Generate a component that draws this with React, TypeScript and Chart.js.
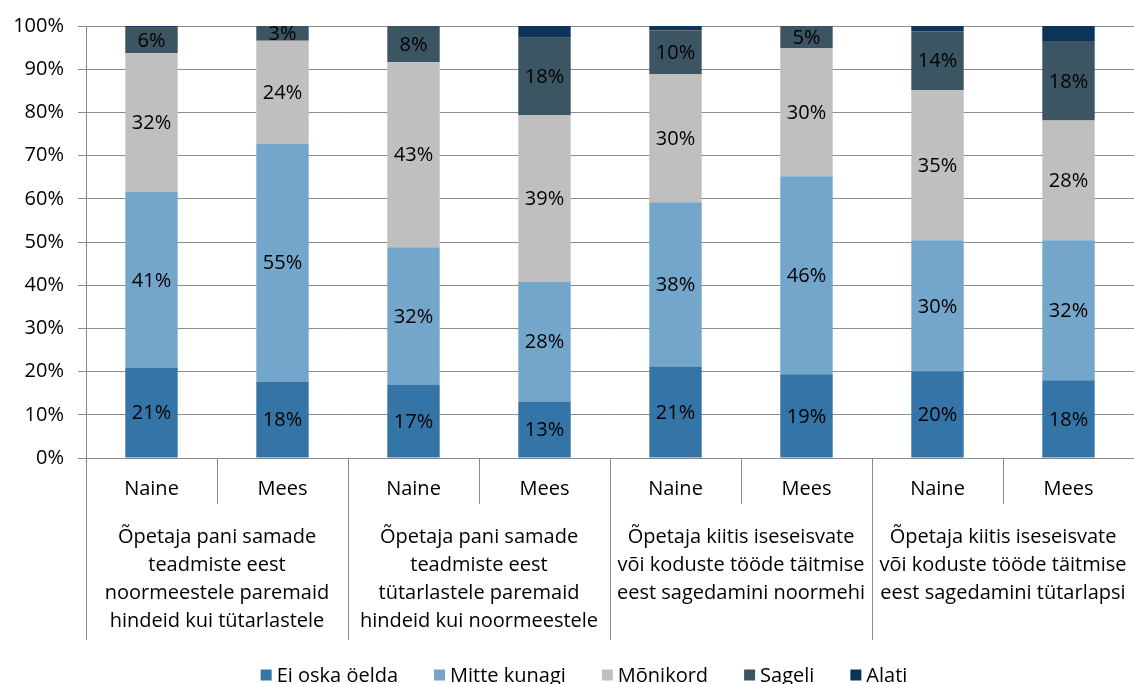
import React, { useEffect, useRef } from 'react';
import { Chart, registerables } from 'chart.js';

Chart.register(...registerables);

const categories = ['Naine', 'Mees', 'Naine', 'Mees', 'Naine', 'Mees', 'Naine', 'Mees'];
const groupLabels = [
  ['Õpetaja pani samade', 'teadmiste eest', 'noormeestele paremaid', 'hindeid kui tütarlastele'],
  ['Õpetaja pani samade', 'teadmiste eest', 'tütarlastele paremaid', 'hindeid kui noormeestele'],
  ['Õpetaja kiitis iseseisvate', 'või koduste tööde täitmise', 'eest sagedamini noormehi'],
  ['Õpetaja kiitis iseseisvate', 'või koduste tööde täitmise', 'eest sagedamini tütarlapsi'],
];
const seriesNames = ['Ei oska öelda', 'Mitte kunagi', 'Mõnikord', 'Sageli', 'Alati'];
const seriesColors = ['#3574A6', '#74A6CC', '#BFBFBF', '#3B5662', '#0C3459'];

const eiOska = [20.9, 17.6, 17.0, 13.1, 21.2, 19.4, 20.0, 18.0];
const mitteKunagi = [40.7, 55.2, 31.8, 27.7, 38.0, 45.8, 30.4, 32.4];
const monikord = [32.1, 23.8, 42.8, 38.6, 29.7, 29.7, 34.8, 27.7];
const sageli = [5.9, 3.4, 8.4, 17.9, 10.1, 5.1, 13.6, 18.4];
const alati = [0.4, 0, 0, 2.7, 1.0, 0, 1.2, 3.5];

const yTicks = [0, 10, 20, 30, 40, 50, 60, 70, 80, 90, 100];

const FONT = '"Open Sans", Lato, sans-serif';
const FONT_SIZE = 20;
const LINE_COLOR = '#8c8c8c';

const decorations = {
  id: 'decorations',
  afterDatasetsDraw(chart: any) {
    const ctx = chart.ctx;
    ctx.save();
    ctx.font = `${FONT_SIZE}px ${FONT}`;
    ctx.fillStyle = '#000';
    ctx.textAlign = 'center';
    ctx.textBaseline = 'middle';
    chart.data.datasets.forEach((ds: any, di: number) => {
      if (di > 3) return;
      const meta = chart.getDatasetMeta(di);
      meta.data.forEach((bar: any, i: number) => {
        const v = ds.data[i];
        if (!v) return;
        const p = bar.getProps(['x', 'y', 'base'], true);
        ctx.fillText(Math.round(v) + '%', p.x, (p.y + p.base) / 2 + 1);
      });
    });
    ctx.restore();
  },
  afterDraw(chart: any) {
    const ctx = chart.ctx;
    const xs = chart.scales.x;
    const area = chart.chartArea;
    const slot = xs.getPixelForValue(1) - xs.getPixelForValue(0);
    const bottom = area.bottom;
    ctx.save();
    ctx.strokeStyle = LINE_COLOR;
    ctx.lineWidth = 1;
    const vline = (x: number, y1: number, y2: number) => {
      const px = Math.round(x) + 0.5;
      ctx.beginPath();
      ctx.moveTo(px, y1);
      ctx.lineTo(px, y2);
      ctx.stroke();
    };
    vline(area.left - 0.5, bottom, 640);
    for (let k = 1; k < categories.length; k++) {
      const bx = xs.getPixelForValue(k) - slot / 2;
      if (k % 2 === 0) vline(bx, bottom, 640);
      else vline(bx, bottom, 504);
    }
    // group labels
    ctx.font = `${FONT_SIZE}px ${FONT}`;
    ctx.fillStyle = '#000';
    ctx.textAlign = 'center';
    ctx.textBaseline = 'middle';
    groupLabels.forEach((lines, g) => {
      const cx = (xs.getPixelForValue(2 * g) + xs.getPixelForValue(2 * g + 1)) / 2;
      lines.forEach((line, li) => {
        ctx.fillText(line, cx, 537 + li * 28);
      });
    });
    // legend
    const box = 11;
    const gapBoxText = 5;
    const gapItems = 36;
    const widths = seriesNames.map((n) => ctx.measureText(n).width);
    const total = widths.reduce((a, w) => a + box + gapBoxText + w, 0) + gapItems * (seriesNames.length - 1);
    let lx = 584 - total / 2;
    const ly = 675;
    ctx.textAlign = 'left';
    seriesNames.forEach((n, i) => {
      ctx.fillStyle = seriesColors[i];
      ctx.fillRect(lx, ly - box / 2, box, box);
      ctx.fillStyle = '#000';
      ctx.fillText(n, lx + box + gapBoxText, ly + 1);
      lx += box + gapBoxText + widths[i] + gapItems;
    });
    ctx.restore();
  },
};

export default function App() {
  const ref = useRef<HTMLCanvasElement | null>(null);
  useEffect(() => {
    if (!ref.current) return;
    const series = [eiOska, mitteKunagi, monikord, sageli, alati];
    const chart = new Chart(ref.current, {
      type: 'bar',
      data: {
        labels: categories,
        datasets: series.map((d, i) => ({
          label: seriesNames[i],
          data: d,
          backgroundColor: seriesColors[i],
          borderWidth: 0,
          categoryPercentage: 1,
          barPercentage: 0.4,
        })),
      },
      options: {
        responsive: false,
        animation: false,
        layout: { padding: { top: 24, right: 0, bottom: 0, left: 0 } },
        plugins: {
          legend: { display: false },
          tooltip: { enabled: false },
        },
        scales: {
          x: {
            stacked: true,
            grid: { display: false },
            border: { display: true, color: LINE_COLOR },
            ticks: {
              color: '#000',
              font: { family: FONT, size: FONT_SIZE },
              padding: 11,
              maxRotation: 0,
              autoSkip: false,
            },
            afterFit(scale: any) {
              scale.height = 226;
            },
          },
          y: {
            stacked: true,
            min: 0,
            max: 100,
            afterBuildTicks(scale: any) {
              scale.ticks = yTicks.map((v) => ({ value: v }));
            },
            grid: { color: LINE_COLOR, tickLength: 8, drawTicks: true },
            border: { display: true, color: LINE_COLOR },
            ticks: {
              color: '#000',
              font: { family: FONT, size: FONT_SIZE },
              padding: 14,
              callback: (v: any) => v + '%',
            },
            afterFit(scale: any) {
              scale.width = 86;
            },
          },
        },
      },
      plugins: [decorations],
    });
    return () => chart.destroy();
  }, []);
  return (
    <div style={{ position: 'absolute', left: 0, top: 0, width: 1134, height: 684 }}>
      <canvas ref={ref} width={1134} height={684} style={{ display: 'block' }} />
    </div>
  );
}
